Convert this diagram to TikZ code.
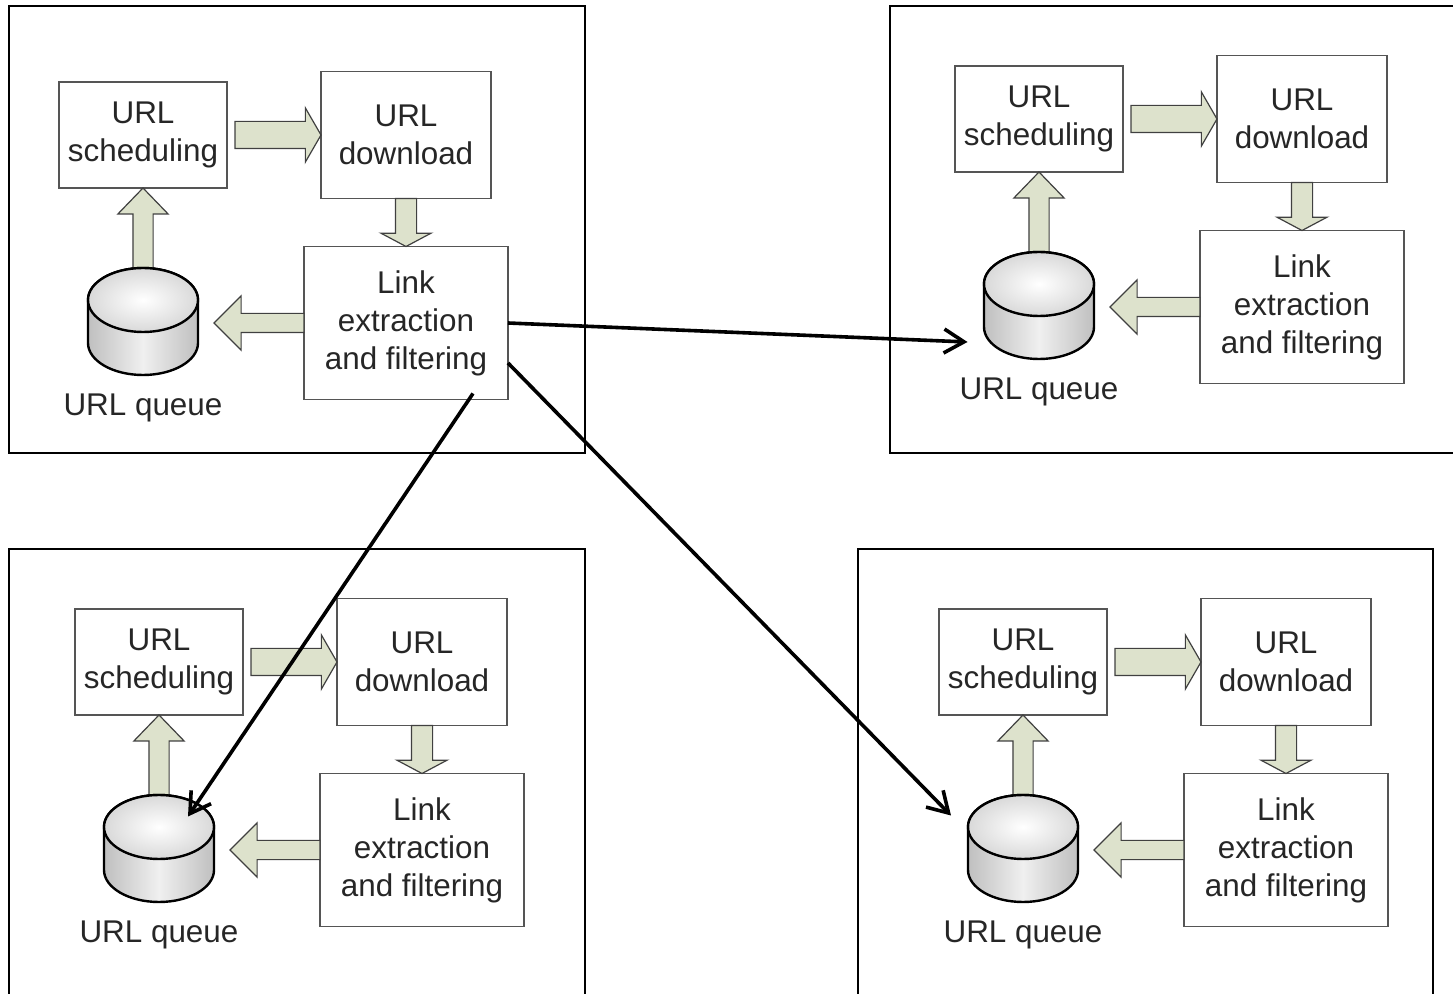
\documentclass[tikz,border=0pt]{standalone}
\usepackage{fontspec}
\setmainfont{Liberation Sans}
\usetikzlibrary{arrows.meta,positioning,shapes.arrows}

\definecolor{flowfill}{RGB}{221,226,204}
\definecolor{flowline}{RGB}{64,64,64}
\definecolor{boxline}{RGB}{85,85,85}
\definecolor{textgray}{RGB}{38,38,38}

\tikzset{
  stage/.style={draw=boxline, line width=0.75pt, fill=white, align=center, text=textgray,
    font=\fontsize{15.7}{19}\selectfont, inner sep=0pt, outer sep=0pt},
  store/.style={minimum width=55pt, minimum height=53.5pt, inner sep=0pt, outer sep=0pt},
  can/.style={draw=black, line width=1.2pt},
  caption/.style={text=textgray, font=\fontsize{15.7}{19}\selectfont, inner sep=0pt},
  flow/.style={single arrow, draw=flowline, fill=flowfill, line width=0.6pt, inner xsep=0pt, outer sep=0pt},
  hop/.style={draw=black, line width=1.8pt, -{Straight Barb[length=10pt,width=12pt]}}
}

\begin{document}
\begin{tikzpicture}[x=0.5pt,y=-0.5pt]
  \useasboundingbox (0,0) rectangle (1453,994);

  \foreach \p/\sx/\sy/\xl/\yt/\xr/\yb in {a/143/135/9/6/585/453, b/1039/119/890/6/1460/453,
                                          c/159/662/9/549/585/1000, d/1023/662/858/549/1433/1000}{
    \draw[line width=1pt] (\xl,\yt) rectangle (\xr,\yb);

    \node[stage, minimum width=84pt, minimum height=53pt]    (\p-sched) at (\sx,\sy)                {URL\\scheduling};
    \node[stage, minimum width=85pt, minimum height=63.5pt]  (\p-down)  [right=47pt of \p-sched]   {URL\\download};
    \node[stage, minimum width=102pt, minimum height=76.5pt] (\p-link)  [below=24pt of \p-down]    {Link\\extraction\\and filtering};

    \node[flow, minimum height=41pt, inner ysep=4.75pt, single arrow head extend=7.5pt,
          single arrow tip angle=88, rotate=90, anchor=tip]   (\p-up)    at (\p-sched.south) {};
    \node[flow, minimum height=43pt, inner ysep=6.5pt, single arrow head extend=6.75pt,
          single arrow tip angle=120, anchor=tip]             (\p-fwd)   at (\p-down.west)   {};
    \node[flow, minimum height=24pt, inner ysep=5pt, single arrow head extend=7.25pt,
          single arrow tip angle=124, rotate=-90, anchor=tip] (\p-drop)  at (\p-link.north)  {};
    \node[flow, minimum height=45pt, inner ysep=4.5pt, single arrow head extend=8.75pt,
          single arrow tip angle=90, rotate=180, anchor=tail] (\p-back)  at (\p-link.west)   {};

    \node[store] (\p-queue) [below=40pt of \p-sched] {};
    \draw[can, left color=gray!50, right color=gray!50, middle color=gray!12]
      ([yshift=-16pt]\p-queue.north west) -- ([yshift=16pt]\p-queue.south west)
      arc[start angle=180, end angle=360, x radius=27.5pt, y radius=16pt]
      -- ([yshift=-16pt]\p-queue.north east)
      arc[start angle=0, end angle=180, x radius=27.5pt, y radius=16pt] -- cycle;
    \draw[can, inner color=white, outer color=gray!30]
      ([yshift=-16pt]\p-queue.north) ellipse[x radius=27.5pt, y radius=16pt];
    \node[caption] (\p-qname) [below=9pt of \p-queue]  {URL queue};
  }

  \draw[hop] (a-link.east) -- ([xshift=-8.25pt,yshift=-18.25pt]b-queue.west);
  \draw[hop] ([xshift=33.5pt,yshift=3pt]a-link.south) -- ([xshift=14.5pt,yshift=16pt]c-queue.center);
  \draw[hop] ([yshift=-20pt]a-link.east) -- ([xshift=-8.5pt,yshift=16.5pt]d-queue.west);
\end{tikzpicture}
\end{document}
